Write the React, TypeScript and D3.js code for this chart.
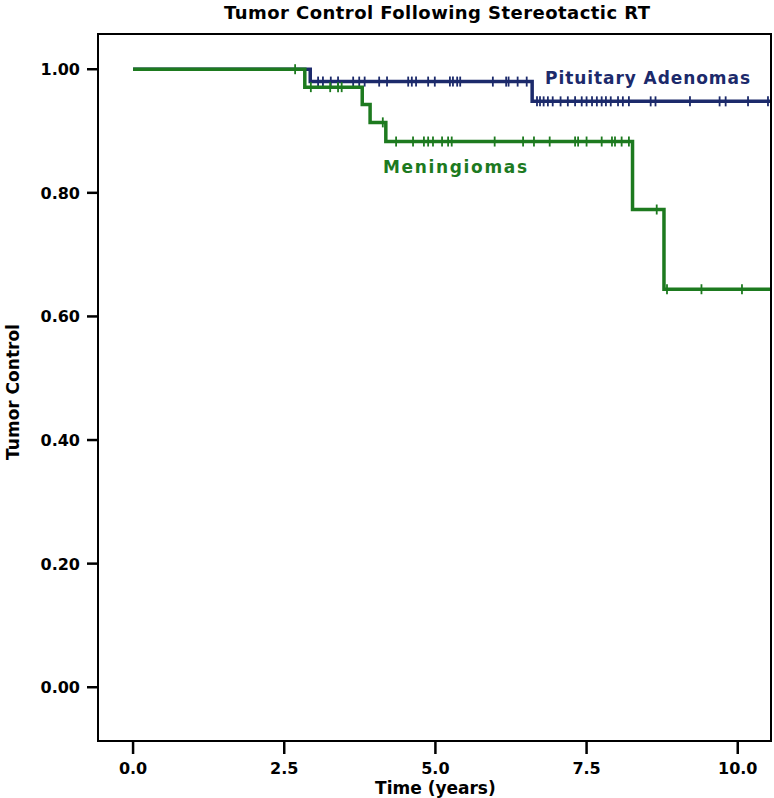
import React from "react";
import * as d3 from "d3";

// Kaplan-Meier steps (time in years, tumor control)
const pituitaryTimes = [0, 2.93, 6.6];
const pituitarySurv = [1.0, 0.98, 0.948];
const pituitaryCensored = [
  3.06, 3.14, 3.27, 3.39, 3.64, 3.74, 3.83, 4.07, 4.2, 4.55, 4.61, 4.68, 4.88, 4.99,
  5.24, 5.29, 5.36, 5.41, 5.95, 6.17, 6.21, 6.36, 6.51,
  6.68, 6.73, 6.79, 6.86, 6.94, 7.07, 7.19, 7.31, 7.42, 7.5, 7.59, 7.67, 7.75, 7.82,
  7.9, 8.02, 8.1, 8.2, 8.56, 8.64, 9.21, 9.7, 9.8, 10.17, 10.5,
];

const meningiomaTimes = [0, 2.84, 3.79, 3.92, 4.18, 8.26, 8.78];
const meningiomaSurv = [1.0, 0.971, 0.943, 0.914, 0.883, 0.773, 0.644];
const meningiomaCensored = [
  2.68, 2.94, 3.26, 3.39, 3.45, 4.13,
  4.35, 4.63, 4.81, 4.88, 4.96, 5.11, 5.21, 5.27, 5.98, 6.45, 6.63, 6.89, 7.31, 7.36,
  7.5, 7.75, 7.92, 7.97, 8.08, 8.2, 8.66, 8.83, 9.4, 10.07,
];

const xTicks = [0, 2.5, 5, 7.5, 10];
const yTicks = [0, 0.2, 0.4, 0.6, 0.8, 1.0];

const W = 774;
const H = 798;
const FONT = "'DejaVu Sans', Verdana, sans-serif";
const BLUE = "#1c2a6b";
const GREEN = "#1d7a1f";

export default function App() {
  const x = d3.scaleLinear().domain([-0.58, 10.55]).range([98, 771]);
  const y = d3.scaleLinear().domain([-0.087, 1.057]).range([741, 34]);
  const tEnd = 10.55;

  const stepLine = d3
    .line<[number, number]>()
    .x((d) => x(d[0]))
    .y((d) => y(d[1]))
    .curve(d3.curveStepAfter);

  const pts = (times: number[], surv: number[]): [number, number][] => {
    const p: [number, number][] = times.map((t, i) => [t, surv[i]]);
    p.push([tEnd, surv[surv.length - 1]]);
    return p;
  };

  const survAt = (times: number[], surv: number[], t: number) => {
    let s = surv[0];
    times.forEach((ti, i) => {
      if (t >= ti) s = surv[i];
    });
    return s;
  };

  const series = [
    { name: "pit", color: BLUE, times: pituitaryTimes, surv: pituitarySurv, cens: pituitaryCensored },
    { name: "men", color: GREEN, times: meningiomaTimes, surv: meningiomaSurv, cens: meningiomaCensored },
  ];

  return (
    <svg
      width={W}
      height={H}
      style={{ position: "absolute", left: 0, top: 0, background: "#fff" }}
      fontFamily={FONT}
    >
      <text x={437} y={19} textAnchor="middle" fontSize={18} fontWeight="bold" fill="#000" textLength={426}>
        Tumor Control Following Stereotactic RT
      </text>

      {/* curves */}
      {series.map((s) => (
        <g key={s.name}>
          <path d={stepLine(pts(s.times, s.surv)) || ""} fill="none" stroke={s.color} strokeWidth={3.5} />
          {s.cens.map((t, i) => {
            const cy = y(survAt(s.times, s.surv, t));
            return (
              <line key={i} x1={x(t)} x2={x(t)} y1={cy - 5} y2={cy + 5} stroke={s.color} strokeWidth={1.8} />
            );
          })}
        </g>
      ))}

      <text x={545} y={84} fontSize={17} fontWeight="bold" fill={BLUE} textLength={205}>
        Pituitary Adenomas
      </text>
      <text x={383} y={173} fontSize={17} fontWeight="bold" fill={GREEN} textLength={144}>
        Meningiomas
      </text>

      {/* frame */}
      <rect x={98} y={34} width={673} height={707} fill="none" stroke="#000" strokeWidth={2} />

      {/* y axis */}
      {yTicks.map((v) => (
        <g key={v}>
          <line x1={87} x2={98} y1={y(v)} y2={y(v)} stroke="#000" strokeWidth={2.5} />
          <text x={80} y={y(v) + 6} textAnchor="end" fontSize={16} fontWeight="bold" fill="#000">
            {v.toFixed(2)}
          </text>
        </g>
      ))}
      <text
        transform={`translate(19,392) rotate(-90)`}
        textAnchor="middle"
        fontSize={17}
        fontWeight="bold"
        fill="#000"
      >
        Tumor Control
      </text>

      {/* x axis */}
      {xTicks.map((v) => (
        <g key={v}>
          <line x1={x(v)} x2={x(v)} y1={741} y2={754} stroke="#000" strokeWidth={2.5} />
          <text x={x(v)} y={774} textAnchor="middle" fontSize={16} fontWeight="bold" fill="#000">
            {v.toFixed(1)}
          </text>
        </g>
      ))}
      <text x={x(5)} y={794} textAnchor="middle" fontSize={17} fontWeight="bold" fill="#000">
        Time (years)
      </text>
    </svg>
  );
}
